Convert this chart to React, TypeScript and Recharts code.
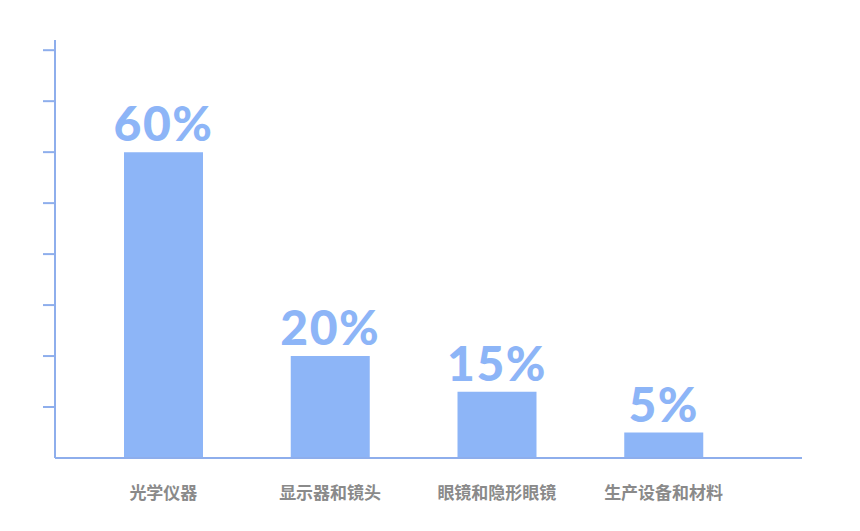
import { Bar, BarChart, LabelList, XAxis, YAxis } from 'recharts';

const categories = ['光学仪器', '显示器和镜头', '眼镜和隐形眼镜', '生产设备和材料'];
const shares = [60, 20, 13, 5];
const shareLabels = ['60%', '20%', '15%', '5%'];
const yTicks = [10, 20, 30, 40, 50, 60, 70, 80];

const data = categories.map((name, i) => ({ name, value: shares[i], label: shareLabels[i] }));

const blue = '#8db5f7';
const axisBlue = '#8eaeec';

const CategoryTick = ({ x, y, payload }: any) => (
  <text
    x={x}
    y={y + 41}
    textAnchor="middle"
    fill="#8a8a8a"
    fontSize={17}
    fontWeight={700}
    fontFamily="'Noto Sans CJK SC', sans-serif"
  >
    {payload.value}
  </text>
);

export default function App() {
  return (
    <div style={{ position: 'absolute', left: 0, top: 0, background: '#fff' }}>
      <BarChart width={860} height={531} data={data} margin={{ top: 40, right: 58, bottom: 0, left: 0 }}>
        <YAxis
          width={55}
          domain={[0, 82]}
          ticks={yTicks}
          tickFormatter={() => ''}
          tickSize={12}
          axisLine={{ stroke: axisBlue, strokeWidth: 2 }}
          tickLine={{ stroke: axisBlue, strokeWidth: 2 }}
        />
        <XAxis
          dataKey="name"
          height={73}
          padding={{ left: 25, right: 55 }}
          tickLine={false}
          tickSize={0}
          tickMargin={0}
          axisLine={{ stroke: axisBlue, strokeWidth: 2 }}
          tick={<CategoryTick />}
          interval={0}
        />
        <Bar dataKey="value" fill={blue} barSize={79} isAnimationActive={false}>
          <LabelList
            dataKey="label"
            position="top"
            offset={11}
            fill={blue}
            fontSize={48}
            fontWeight={900}
            letterSpacing={1.5}
            fontFamily="Lato, sans-serif"
          />
        </Bar>
      </BarChart>
    </div>
  );
}
